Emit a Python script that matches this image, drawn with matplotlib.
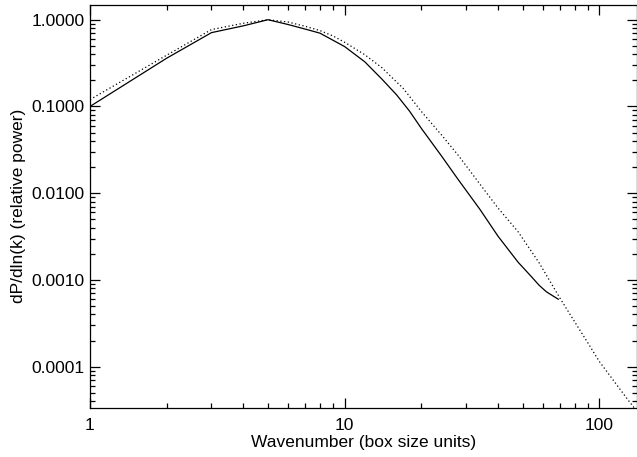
import matplotlib
matplotlib.use('Agg')
from matplotlib import pyplot as plt
from matplotlib.ticker import FixedLocator, FuncFormatter, LogLocator, NullFormatter

plt.rcParams['font.family'] = ['Liberation Sans', 'DejaVu Sans']

# solid curve
k_solid = [1, 2, 3, 4, 5, 6, 7, 8, 9, 10, 12, 14, 16, 18, 20, 24, 28, 34,
           40, 48, 54, 58, 62, 66, 69]
p_solid = [0.100, 0.36, 0.71, 0.85, 1.00, 0.88, 0.78, 0.70, 0.58, 0.49, 0.327,
           0.207, 0.136, 0.088, 0.056, 0.0269, 0.0142, 0.0065, 0.0032,
           0.0016, 0.00110, 0.00087, 0.00073, 0.00065, 0.00060]

# dotted curve
k_dot = [1, 2, 3, 4, 5, 6, 7, 8, 9, 10, 12, 14, 17, 20, 24, 28, 34, 40, 48,
         58, 70, 80, 90, 100, 110, 120, 130, 140]
p_dot = [0.12, 0.39, 0.77, 0.91, 1.00, 0.94, 0.84, 0.75, 0.65, 0.55, 0.395,
         0.28, 0.161, 0.0877, 0.047, 0.0271, 0.0127, 0.00676, 0.00359,
         0.00158, 0.00062, 0.00033, 0.00019, 0.000115, 0.000079, 0.000056,
         0.000041, 0.000031]

x_ticks = [1, 10, 100]
y_ticks = [0.0001, 0.001, 0.01, 0.1, 1.0]

fig = plt.figure(figsize=(6.37, 4.57), dpi=100)
ax = fig.add_axes([90 / 637, 49 / 457, 546.5 / 637, 403.3 / 457])

ax.plot(k_solid, p_solid, color='black', lw=0.9)
ax.plot(k_dot, p_dot, color='black', lw=0.9, linestyle=(0, (1, 2)))

ax.set_xscale('log')
ax.set_yscale('log')
ax.set_xlim(1, 140)
ax.set_ylim(3.34e-5, 1.49)

ax.xaxis.set_major_locator(FixedLocator(x_ticks))
ax.xaxis.set_major_formatter(FuncFormatter(lambda v, p: '%d' % round(v)))
ax.xaxis.set_minor_locator(LogLocator(base=10, subs=range(2, 10)))
ax.xaxis.set_minor_formatter(NullFormatter())
ax.yaxis.set_major_locator(FixedLocator(y_ticks))
ax.yaxis.set_major_formatter(FuncFormatter(lambda v, p: '%.4f' % v))
ax.yaxis.set_minor_locator(LogLocator(base=10, subs=range(2, 10)))
ax.yaxis.set_minor_formatter(NullFormatter())

ax.tick_params(which='both', direction='in', top=True, right=True,
               labelsize=12.5, width=0.9)
ax.tick_params(which='major', length=7)
ax.tick_params(which='minor', length=3.5)
ax.tick_params(axis='x', which='major', pad=7)
ax.tick_params(axis='y', which='major', pad=4)

for s in ax.spines.values():
    s.set_linewidth(0.9)

ax.set_xlabel('Wavenumber (box size units)', fontsize=12.5, labelpad=2)
ax.set_ylabel('dP/dln(k) (relative power)', fontsize=12.5, labelpad=4)

fig.savefig('out.png', dpi=100)
